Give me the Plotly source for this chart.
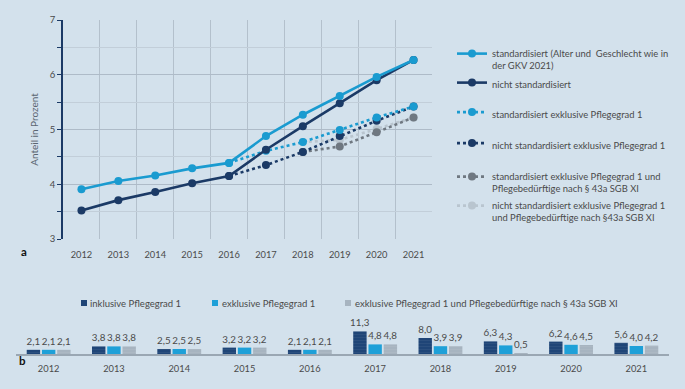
import plotly.graph_objects as go

years = [2012, 2013, 2014, 2015, 2016, 2017, 2018, 2019, 2020, 2021]

std = [3.91, 4.06, 4.16, 4.29, 4.39, 4.88, 5.27, 5.61, 5.96, 6.27]
nonstd = [3.52, 3.71, 3.86, 4.02, 4.15, 4.63, 5.06, 5.48, 5.90, 6.27]

years_excl = [2016, 2017, 2018, 2019, 2020, 2021]
std_excl = [4.39, 4.61, 4.77, 4.99, 5.22, 5.42]
nonstd_excl = [4.15, 4.35, 4.59, 4.88, 5.16, 5.42]

years_43a = [2018, 2019, 2020, 2021]
std_excl_43a = [4.59, 4.69, 4.95, 5.22]
nonstd_excl_43a = [4.77, 4.81, 5.01, 5.22]

bar_incl = [2.1, 3.8, 2.5, 3.2, 2.1, 11.3, 8.0, 6.3, 6.2, 5.6]
bar_excl = [2.1, 3.8, 2.5, 3.2, 2.1, 4.8, 3.9, 4.3, 4.6, 4.0]
bar_excl_43a = [2.1, 3.8, 2.5, 3.2, 2.1, 4.8, 3.9, 0.5, 4.5, 4.2]
year_labels = [str(y) for y in years]

bar_names = ["inklusive Pflegegrad 1", "exklusive Pflegegrad 1",
             "exklusive Pflegegrad 1 und Pflegebedürftige nach § 43a SGB XI"]

LB = "#1a9bd0"
NAVY = "#1b3a66"
MGRAY = "#6f7881"
LGRAY = "#b9c5cf"
TXT = "#4a4a4a"
BG = "#d3e1ec"
FONT = "Lato"

W, H = 685, 389
def px_x(p):
    return p / W
def px_y(p):
    return 1 - p / H

def de(v):
    return f"{v:.1f}".replace(".", ",")

fig = go.Figure()

# (x, y, colour, dash, legend name, legend id, legend centre y in px)
line_specs = [
    (years_43a, nonstd_excl_43a, LGRAY, "dot",
     "nicht standardisiert exklusive Pflegegrad 1<br>und Pflegebedürftige nach §43a SGB XI", "legend6", 212),
    (years_43a, std_excl_43a, MGRAY, "dot",
     "standardisiert exklusive Pflegegrad 1 und<br>Pflegebedürftige nach § 43a SGB XI", "legend5", 183),
    (years_excl, nonstd_excl, NAVY, "dot", "nicht standardisiert exklusive Pflegegrad 1", "legend4", 145),
    (years_excl, std_excl, LB, "dot", "standardisiert exklusive Pflegegrad 1", "legend3", 114),
    (years, nonstd, NAVY, "solid", "nicht standardisiert", "legend2", 84.5),
    (years, std, LB, "solid", "standardisiert (Alter und  Geschlecht wie in<br>der GKV 2021)", "legend", 60),
]
legend_layouts = {}
for xs, ys, col, dash, name, leg, cy in line_specs:
    fig.add_trace(go.Scatter(
        x=xs, y=ys, mode="lines+markers", name=name,
        line=dict(color=col, width=2.6, dash=dash),
        marker=dict(color=col, size=8),
        xaxis="x", yaxis="y", legend=leg,
    ))
    legend_layouts[leg] = dict(
        x=px_x(452), y=px_y(cy), xanchor="left", yanchor="middle",
        bgcolor="rgba(0,0,0,0)", font=dict(size=9.4, color=TXT, family=FONT),
        valign="top",
    )

bar_cols = ["#1f4577", "#1ea0d8", "#a7b4c0"]
bar_pats = ["-", "", "-"]
for vals, col, name, pat in zip([bar_incl, bar_excl, bar_excl_43a], bar_cols, bar_names, bar_pats):
    fig.add_trace(go.Bar(
        x=year_labels, y=vals, name=name, showlegend=False,
        marker=dict(color=col, line=dict(width=0),
                    pattern=dict(shape=pat, fgcolor="rgba(255,255,255,0.12)", size=3, solidity=0.3)),
        text=[de(v) for v in vals], textposition="outside", constraintext="none",
        textfont=dict(size=9.8, color=TXT, family=FONT),
        cliponaxis=False,
        xaxis="x2", yaxis="y2",
    ))

# bar chart key (squares + labels)
key_sq_x = [81, 212, 345]
key_tx_x = [88, 220, 353]
shapes = []
annotations = []
for sx, tx, col, name in zip(key_sq_x, key_tx_x, bar_cols, bar_names):
    shapes.append(dict(type="rect", xref="paper", yref="paper",
                       x0=px_x(sx), x1=px_x(sx + 6), y0=px_y(306), y1=px_y(300),
                       fillcolor=col, line=dict(width=0)))
    annotations.append(dict(text=name, x=px_x(tx), y=px_y(303), xref="paper", yref="paper",
                            xanchor="left", yanchor="middle", showarrow=False,
                            font=dict(size=9.5, color=TXT, family=FONT)))

annotations += [
    dict(text="<b>a</b>", x=px_x(19), y=px_y(252), xref="paper", yref="paper",
         showarrow=False, font=dict(size=11.5, color="#111111", family=FONT)),
    dict(text="<b>b</b>", x=px_x(17), y=px_y(369), xref="paper", yref="paper",
         showarrow=False, font=dict(size=11.5, color="#111111", family=FONT)),
]

fig.update_layout(
    width=W, height=H,
    margin=dict(l=0, r=0, t=0, b=0, autoexpand=False),
    paper_bgcolor=BG, plot_bgcolor=BG,
    font=dict(family=FONT, size=9.5, color=TXT),
    barmode="group", bargap=0.3, bargroupgap=0.12,
    xaxis=dict(
        domain=[px_x(63), px_x(432)], range=[2011.5, 2021.5],
        tickvals=years, ticktext=year_labels, showgrid=False, zeroline=False,
        ticks="outside", ticklen=7, tickcolor="rgba(0,0,0,0)",
        tickfont=dict(size=9.3, color=TXT),
        minor=dict(tick0=2011.5, dtick=1, showgrid=True, gridcolor="#b3c0cc", gridwidth=1),
        showline=False,
    ),
    yaxis=dict(
        domain=[px_y(239), px_y(20)], range=[3, 7], dtick=1,
        showgrid=True, gridcolor="#aebbc8", gridwidth=1.2, zeroline=False,
        ticks="outside", ticklen=4, tickcolor=NAVY,
        minor=dict(dtick=0.5, showgrid=True, gridcolor="#c2ced9", ticks="outside", ticklen=4, tickcolor=NAVY),
        showline=True, linecolor=NAVY, linewidth=1.5,
        tickfont=dict(size=9.5, color=TXT),
        title=dict(text="Anteil in Prozent", font=dict(size=10, color="#5a6570"), standoff=9),
    ),
    xaxis2=dict(
        domain=[px_x(16), px_x(669)], anchor="y2",
        showgrid=False, showline=True, linecolor="#9aa7b3", linewidth=1.5,
        ticks="outside", ticklen=5, tickcolor="rgba(0,0,0,0)",
        tickfont=dict(size=9.3, color=TXT),
    ),
    yaxis2=dict(
        domain=[px_y(354), px_y(330)], range=[0, 12], anchor="x2",
        visible=False, showgrid=False, zeroline=False,
    ),
    shapes=shapes,
    annotations=annotations,
    showlegend=True,
    **legend_layouts,
)

fig.write_html(
    "out.html",
    config={"displayModeBar": False},
    post_script="document.body.style.margin='0';document.body.style.overflow='hidden';",
)
